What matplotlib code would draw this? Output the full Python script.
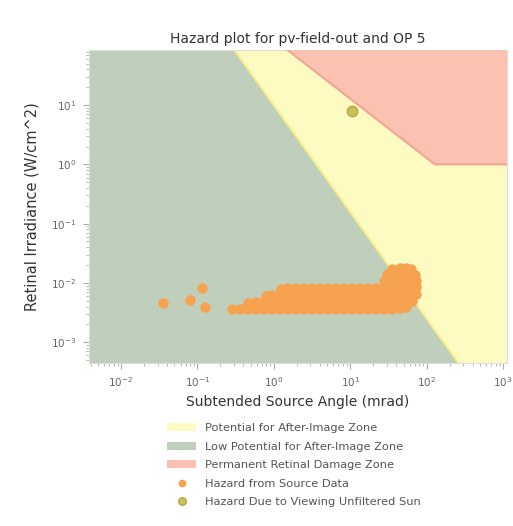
import numpy as np
import matplotlib
matplotlib.use("Agg")
import matplotlib.pyplot as plt
from matplotlib.patches import Patch
from matplotlib.lines import Line2D

# ---------------------------------------Datos---------------------------------------
titulo = "Hazard plot for pv-field-out and OP 5"

# umbral de post-imagen (recta en log-log), vertices
umbral_post_angulo = [0.001, 10000.0]
umbral_post_irr = [2.5e6, 6.3e-7]

# umbral de dano retinal permanente, vertices
umbral_dano_angulo = [0.001, 128.0, 10000.0]
umbral_dano_irr = [128000.0, 1.0, 1.0]

# puntos de peligro (mrad, W/cm^2)
fuente_angulo = [
    0.035, 0.080, 0.115, 0.126,
    # fila inferior
    0.284, 0.36, 0.46, 0.585, 0.745, 0.946, 1.21, 1.53, 1.95, 2.48, 3.16, 4.03,
    5.12, 6.52, 8.30, 10.6, 13.4, 17.1, 21.8, 27.7, 35.2, 44.9, 53.7,
    # segunda fila
    0.46, 0.585, 0.745, 0.946, 1.21, 1.53, 1.95, 2.48, 3.16, 4.03, 5.12, 6.52,
    8.30, 10.6, 13.4, 17.1, 21.8, 27.7, 35.2, 44.9, 53.7, 64.4,
    # tercera fila
    0.80, 0.95, 1.21, 1.53, 1.95, 2.48, 3.16, 4.03, 5.12, 6.52, 8.30, 10.6,
    13.4, 17.1, 21.8, 27.7, 35.2, 44.9, 53.7, 64.4, 72.6,
    # cuarta fila
    1.25, 1.53, 1.95, 2.48, 3.16, 4.03, 5.12, 6.52, 8.30, 10.6, 13.4, 17.1,
    21.8, 27.7, 35.2, 44.9, 53.7, 64.4, 72.6,
    # gancho
    27.7, 35.2, 44.9, 53.7, 64.4, 72.6,
    30.5, 35.2, 44.9, 53.7, 64.4, 70.0,
    35.5, 44.9, 53.7, 62.0,
]
fuente_irr = [
    0.0046, 0.0051, 0.0081, 0.0039,
    0.0036, 0.0036, 0.0037, 0.0036, 0.0037, 0.0036, 0.0037, 0.0036, 0.0036, 0.0037, 0.0036, 0.0036,
    0.0037, 0.0036, 0.0036, 0.0037, 0.0036, 0.0036, 0.0037, 0.0036, 0.0037, 0.0038, 0.0040,
    0.0046, 0.0047, 0.0048, 0.0047, 0.0048, 0.0047, 0.0047, 0.0048, 0.0047, 0.0047, 0.0048, 0.0047,
    0.0047, 0.0048, 0.0047, 0.0047, 0.0048, 0.0047, 0.0047, 0.0048, 0.0048, 0.0050,
    0.0060, 0.0062, 0.0063, 0.0062, 0.0062, 0.0063, 0.0062, 0.0062, 0.0063, 0.0062, 0.0062, 0.0063,
    0.0062, 0.0062, 0.0063, 0.0062, 0.0062, 0.0063, 0.0063, 0.0064, 0.0066,
    0.0079, 0.0081, 0.0082, 0.0081, 0.0082, 0.0081, 0.0082, 0.0081, 0.0082, 0.0081, 0.0082, 0.0081,
    0.0082, 0.0083, 0.0082, 0.0083, 0.0084, 0.0085, 0.0086,
    0.0107, 0.0108, 0.0107, 0.0108, 0.0107, 0.0106,
    0.0140, 0.0142, 0.0141, 0.0142, 0.0140, 0.0138,
    0.0175, 0.0177, 0.0177, 0.0172,
]

sol_angulo = [10.5]
sol_irr = [7.9]

xlim = (10 ** -2.42, 10 ** 3.05)
ylim = (10 ** -3.35, 10 ** 1.93)

# ---------------------------------------Grafico---------------------------------------
c_verde = "#bfcfbb"
c_amarillo = "#fdfbc2"
c_rojo = "#fbc1b1"
c_naranja = "#f7a24e"
c_sol = "#cbbf55"
gris = "#555555"

fig = plt.figure(figsize=(5.13, 5.26), dpi=100)
ax = fig.add_axes([0.1735, 0.31, 0.8145, 0.595])
ax.set_xscale("log")
ax.set_yscale("log")

techo = 1e7
piso = 1e-8
ax.fill_between(umbral_post_angulo, piso, umbral_post_irr, color=c_verde, lw=0, zorder=1)
ax.fill_between(umbral_post_angulo, umbral_post_irr, techo, color=c_amarillo, lw=0, zorder=1)
ax.plot(umbral_post_angulo, umbral_post_irr, color="#f7f08a", lw=1.5, zorder=2)
ax.fill_between(umbral_dano_angulo, umbral_dano_irr, techo, color=c_rojo, lw=0, zorder=3)
ax.plot(umbral_dano_angulo, umbral_dano_irr, color="#f4a494", lw=1.5, zorder=3)

ax.plot(fuente_angulo, fuente_irr, "o", color=c_naranja, ms=7.5, mec="none", zorder=4)
ax.plot(sol_angulo, sol_irr, "o", color=c_sol, ms=7.5, mec="#b5a845", mew=1, zorder=5)

ax.set_xlim(xlim)
ax.set_ylim(ylim)

ax.set_title(titulo, fontsize=10, color="#333333", pad=5)
ax.set_xlabel("Subtended Source Angle (mrad)", fontsize=10, color="#333333")
ax.set_ylabel("Retinal Irradiance (W/cm^2)", fontsize=10.5, color="#333333", labelpad=8)
ax.tick_params(which="both", colors="#aaaaaa", labelcolor="#666666", labelsize=7.5)
ax.tick_params(which="major", length=4, pad=5)
for s in ax.spines.values():
    s.set_color("#dddddd")

manijas = [
    Patch(facecolor=c_amarillo, edgecolor="none", label="Potential for After-Image Zone"),
    Patch(facecolor=c_verde, edgecolor="none", label="Low Potential for After-Image Zone"),
    Patch(facecolor=c_rojo, edgecolor="none", label="Permanent Retinal Damage Zone"),
    Line2D([], [], ls="none", marker="o", color=c_naranja, ms=4.5, label="Hazard from Source Data"),
    Line2D([], [], ls="none", marker="o", color=c_sol, mec="#b5a845", ms=5.5,
           label="Hazard Due to Viewing Unfiltered Sun"),
]
leg = fig.legend(handles=manijas, loc="upper center", bbox_to_anchor=(0.573, 0.215),
                 frameon=False, fontsize=8.2, handlelength=2.6, labelspacing=0.75)
for t in leg.get_texts():
    t.set_color(gris)

fig.savefig("out.png", dpi=100)
